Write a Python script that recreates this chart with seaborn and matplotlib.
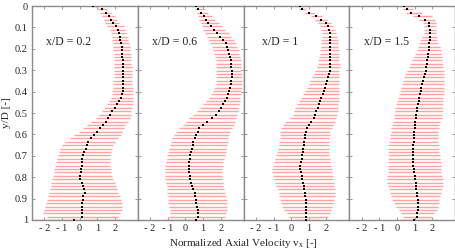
import seaborn as sns
import matplotlib.pyplot as plt
import pandas as pd

# measurement heights y/D (shared by all four stations)
y_pos = [0.000, 0.016, 0.032, 0.048, 0.063, 0.079, 0.095, 0.111, 0.127, 0.143,
         0.159, 0.175, 0.190, 0.206, 0.222, 0.238, 0.254, 0.270, 0.286, 0.302,
         0.317, 0.333, 0.349, 0.365, 0.381, 0.397, 0.413, 0.429, 0.444, 0.460,
         0.476, 0.492, 0.508, 0.524, 0.540, 0.556, 0.571, 0.587, 0.603, 0.619,
         0.635, 0.651, 0.667, 0.683, 0.698, 0.714, 0.730, 0.746, 0.762, 0.778,
         0.794, 0.810, 0.825, 0.841, 0.857, 0.873, 0.889, 0.905, 0.921, 0.937,
         0.952, 0.968, 0.984, 1.000]

stations = ['x/D = 0.2', 'x/D = 0.6', 'x/D = 1', 'x/D = 1.5']

# x/D = 0.2
mean_02 = [0.77, 1.25, 1.49, 1.64, 1.76, 1.87, 2.08, 2.18, 2.23, 2.27,
           2.31, 2.35, 2.38, 2.40, 2.41, 2.43, 2.44, 2.44, 2.45, 2.46,
           2.47, 2.47, 2.47, 2.47, 2.47, 2.45, 2.41, 2.35, 2.26, 2.14,
           1.98, 1.86, 1.74, 1.62, 1.48, 1.30, 1.14, 0.96, 0.80, 0.64,
           0.50, 0.41, 0.34, 0.24, 0.18, 0.13, 0.11, 0.11, 0.09, 0.06,
           0.04, 0.03, 0.12, 0.20, 0.24, 0.29, 0.22, 0.17, 0.14, 0.14,
           0.15, 0.14, 0.14, -0.33]
lo_02 = [0.65, 1.00, 1.15, 1.28, 1.38, 1.45, 1.58, 1.70, 1.78, 1.84,
         1.86, 1.88, 1.90, 1.92, 1.93, 1.94, 1.94, 1.95, 1.94, 1.94,
         1.94, 1.93, 1.92, 1.91, 1.89, 1.86, 1.82, 1.76, 1.66, 1.55,
         1.40, 1.26, 1.10, 0.92, 0.65, 0.40, 0.18, -0.05, -0.30, -0.55,
         -0.85, -1.00, -1.10, -1.18, -1.25, -1.30, -1.35, -1.40, -1.45, -1.48,
         -1.52, -1.56, -1.60, -1.64, -1.70, -1.74, -1.80, -1.86, -1.92, -1.98,
         -2.04, -2.08, -1.85, -2.62]
hi_02 = [1.00, 1.55, 1.80, 2.00, 2.12, 2.25, 2.50, 2.60, 2.66, 2.72,
         2.76, 2.80, 2.84, 2.87, 2.89, 2.91, 2.93, 2.94, 2.95, 2.96,
         2.97, 2.98, 2.99, 3.00, 3.02, 3.03, 3.04, 3.04, 3.03, 3.01,
         2.97, 2.94, 2.90, 2.84, 2.72, 2.58, 2.50, 2.42, 2.32, 2.18,
         2.02, 1.92, 1.84, 1.77, 1.72, 1.71, 1.72, 1.74, 1.76, 1.78,
         1.82, 1.90, 1.98, 2.06, 2.14, 2.20, 2.28, 2.35, 2.40, 2.43,
         2.42, 2.30, 2.15, 2.28]

# x/D = 0.6
mean_06 = [0.58, 0.72, 0.90, 1.03, 1.18, 1.31, 1.43, 1.60, 1.80, 1.98,
           2.16, 2.30, 2.38, 2.44, 2.48, 2.53, 2.56, 2.58, 2.60, 2.62,
           2.62, 2.62, 2.60, 2.57, 2.52, 2.48, 2.43, 2.35, 2.25, 2.15,
           2.03, 1.90, 1.75, 1.52, 1.25, 1.00, 0.80, 0.70, 0.61, 0.52,
           0.46, 0.41, 0.37, 0.32, 0.28, 0.25, 0.23, 0.21, 0.21, 0.23,
           0.25, 0.28, 0.33, 0.39, 0.46, 0.52, 0.55, 0.58, 0.63, 0.67,
           0.69, 0.71, 0.70, 0.62]
lo_06 = [0.43, 0.55, 0.66, 0.73, 0.80, 0.87, 0.92, 1.02, 1.12, 1.22,
         1.32, 1.42, 1.50, 1.56, 1.62, 1.67, 1.71, 1.74, 1.75, 1.76,
         1.76, 1.75, 1.74, 1.71, 1.64, 1.56, 1.46, 1.34, 1.18, 1.02,
         0.84, 0.64, 0.43, 0.22, 0.05, -0.15, -0.38, -0.54, -0.66, -0.76,
         -0.83, -0.90, -0.95, -1.00, -1.03, -1.07, -1.10, -1.13, -1.15, -1.17,
         -1.16, -1.13, -1.10, -1.07, -1.05, -1.03, -1.00, -0.98, -0.96, -0.93,
         -0.90, -0.88, -0.92, -1.17]
hi_06 = [0.90, 1.10, 1.30, 1.50, 1.70, 1.88, 2.05, 2.25, 2.45, 2.60,
         2.74, 2.85, 2.95, 3.02, 3.07, 3.11, 3.14, 3.16, 3.17, 3.18,
         3.19, 3.20, 3.20, 3.20, 3.19, 3.17, 3.15, 3.12, 3.08, 3.04,
         3.00, 2.97, 2.93, 2.88, 2.82, 2.74, 2.64, 2.55, 2.48, 2.44,
         2.40, 2.36, 2.32, 2.28, 2.24, 2.20, 2.16, 2.12, 2.08, 2.05,
         2.05, 2.08, 2.12, 2.16, 2.20, 2.25, 2.30, 2.34, 2.37, 2.38,
         2.36, 2.30, 2.22, 2.20]

# x/D = 1
mean_10 = [0.49, 0.62, 1.00, 1.42, 1.72, 1.98, 2.10, 2.16, 2.19, 2.21,
           2.22, 2.22, 2.22, 2.22, 2.22, 2.22, 2.22, 2.21, 2.20, 2.18,
           2.14, 2.09, 2.03, 1.97, 1.91, 1.84, 1.78, 1.70, 1.63, 1.57,
           1.50, 1.43, 1.36, 1.29, 1.15, 1.02, 0.90, 0.84, 0.80, 0.76,
           0.74, 0.71, 0.68, 0.65, 0.62, 0.59, 0.54, 0.50, 0.51, 0.54,
           0.59, 0.63, 0.67, 0.71, 0.74, 0.78, 0.81, 0.83, 0.85, 0.87,
           0.87, 0.87, 0.87, 0.87]
lo_10 = [0.30, 0.45, 0.80, 1.10, 1.35, 1.50, 1.62, 1.70, 1.74, 1.74,
         1.72, 1.70, 1.68, 1.66, 1.64, 1.60, 1.55, 1.50, 1.44, 1.36,
         1.27, 1.17, 1.09, 1.00, 0.92, 0.80, 0.70, 0.55, 0.45, 0.33,
         0.22, 0.14, 0.08, -0.05, -0.35, -0.48, -0.58, -0.61, -0.62, -0.64,
         -0.67, -0.71, -0.75, -0.79, -0.84, -0.90, -0.97, -1.02, -1.06, -1.08,
         -1.04, -0.98, -0.90, -0.84, -0.77, -0.71, -0.67, -0.63, -0.60, -0.50,
         -0.38, -0.24, -0.10, 0.34]
hi_10 = [0.70, 0.85, 1.30, 1.75, 2.05, 2.25, 2.40, 2.50, 2.56, 2.60,
         2.63, 2.66, 2.68, 2.70, 2.72, 2.73, 2.74, 2.75, 2.75, 2.74,
         2.73, 2.72, 2.70, 2.69, 2.69, 2.69, 2.69, 2.69, 2.69, 2.68,
         2.66, 2.64, 2.60, 2.56, 2.50, 2.40, 2.30, 2.22, 2.18, 2.15,
         2.13, 2.13, 2.13, 2.14, 2.16, 2.19, 2.22, 2.26, 2.30, 2.33,
         2.36, 2.39, 2.42, 2.45, 2.48, 2.50, 2.47, 2.43, 2.40, 2.34,
         2.26, 2.20, 2.10, 1.66]

# x/D = 1.5
mean_15 = [0.43, 0.56, 0.80, 1.25, 1.58, 1.80, 1.84, 1.85, 1.85, 1.85,
           1.85, 1.84, 1.82, 1.80, 1.78, 1.76, 1.73, 1.70, 1.67, 1.64,
           1.60, 1.54, 1.49, 1.44, 1.39, 1.35, 1.31, 1.27, 1.23, 1.19,
           1.15, 1.12, 1.09, 1.06, 1.04, 1.02, 1.00, 0.99, 0.98, 0.96,
           0.95, 0.94, 0.93, 0.91, 0.90, 0.91, 0.92, 0.94, 0.96, 0.99,
           1.02, 1.04, 1.07, 1.09, 1.11, 1.13, 1.15, 1.17, 1.18, 1.19,
           1.18, 1.16, 1.12, 0.99]
lo_15 = [0.24, 0.35, 0.50, 0.90, 1.25, 1.47, 1.52, 1.55, 1.52, 1.42,
         1.32, 1.25, 1.18, 1.12, 1.05, 0.96, 0.86, 0.76, 0.66, 0.56,
         0.48, 0.42, 0.37, 0.30, 0.24, 0.17, 0.10, 0.04, -0.02, -0.06,
         -0.10, -0.13, -0.15, -0.18, -0.23, -0.28, -0.32, -0.36, -0.39, -0.42,
         -0.45, -0.48, -0.50, -0.51, -0.51, -0.51, -0.51, -0.51, -0.52, -0.53,
         -0.56, -0.57, -0.54, -0.51, -0.47, -0.42, -0.35, -0.27, -0.15, -0.04,
         0.10, 0.24, 0.34, 0.15]
hi_15 = [0.62, 0.90, 1.40, 2.00, 2.15, 2.22, 2.22, 2.22, 2.23, 2.26,
         2.30, 2.35, 2.42, 2.48, 2.52, 2.55, 2.58, 2.61, 2.64, 2.67,
         2.69, 2.69, 2.69, 2.69, 2.69, 2.69, 2.67, 2.64, 2.61, 2.60,
         2.60, 2.60, 2.58, 2.55, 2.45, 2.40, 2.38, 2.35, 2.33, 2.32,
         2.34, 2.36, 2.38, 2.41, 2.44, 2.47, 2.50, 2.51, 2.51, 2.52,
         2.56, 2.60, 2.60, 2.60, 2.56, 2.51, 2.46, 2.41, 2.36, 2.32,
         2.25, 2.12, 1.98, 2.20]

x_ticks = [-2, -1, 0, 1, 2]
x_tick_labels = ['- 2', '- 1', '0', '1', '2']
y_ticks = [0, 0.1, 0.2, 0.3, 0.4, 0.5, 0.6, 0.7, 0.8, 0.9, 1]
y_tick_labels = ['0', '0.1', '0.2', '0.3', '0.4', '0.5', '0.6', '0.7', '0.8', '0.9', '1']

# long table, one block per station
means = [mean_02, mean_06, mean_10, mean_15]
lows = [lo_02, lo_06, lo_10, lo_15]
highs = [hi_02, hi_06, hi_10, hi_15]
df = pd.concat([pd.DataFrame({'station': s, 'y': y_pos, 'v': m, 'lo': lo, 'hi': hi})
                for s, m, lo, hi in zip(stations, means, lows, highs)])

sns.set_theme(style='ticks')
plt.rcParams['font.family'] = ['Liberation Serif', 'DejaVu Serif']
plt.rcParams['mathtext.fontset'] = 'custom'
plt.rcParams['mathtext.rm'] = 'Liberation Serif'
plt.rcParams['mathtext.it'] = 'Liberation Serif:italic'

fig, axes = plt.subplots(1, 4, sharey=True, figsize=(4.56, 2.52), dpi=100)
fig.subplots_adjust(left=0.0702, right=0.998, bottom=0.127, top=0.976, wspace=0)

for ax, s in zip(axes, stations):
    d = df[df['station'] == s]
    ax.hlines(d['y'], d['lo'], d['hi'], color='#ffa3a3', lw=1.0, zorder=1)
    sns.scatterplot(data=d, x='v', y='y', ax=ax, color='black', marker='s',
                    s=4, linewidth=0, zorder=3, legend=False)
    ax.set_xlim(-2.7, 3.3)
    ax.set_ylim(1, 0)
    ax.set_xticks(x_ticks)
    ax.set_xticklabels(x_tick_labels)
    ax.set_yticks(y_ticks)
    ax.set_yticklabels(y_tick_labels)
    ax.set_xlabel('')
    ax.set_ylabel('')
    ax.tick_params(direction='in', length=2.5, width=0.6, color='#8a8a8a',
                   top=True, right=True, labelsize=7.5, pad=3)
    for sp in ax.spines.values():
        sp.set_color('#8a8a8a')
        sp.set_linewidth(1.0)
    # station label sits near y/D = 0.17 (axis is inverted)
    ax.text(0.35, 0.83, s, transform=ax.transAxes, ha='center', va='center', fontsize=8.5)

fig.text(7 / 456, 1 - 113 / 252, 'y/D [-]', rotation=90, ha='center', va='center', fontsize=8)
fig.text(243.5 / 456, 1 - 243 / 252, r'Normalized Axial Velocity v$_\mathrm{x}$ [-]',
         ha='center', va='center', fontsize=8)

plt.savefig('out.png', dpi=100)
